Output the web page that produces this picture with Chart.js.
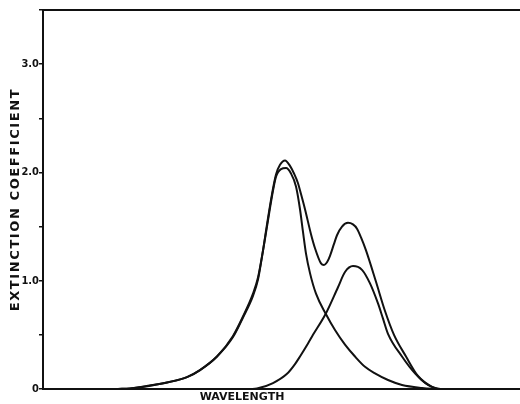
<!DOCTYPE html>
<html>
<head>
<meta charset="utf-8">
<script src="https://cdn.jsdelivr.net/npm/chart.js@4/dist/chart.umd.min.js"></script>
<style>
  html, body { margin: 0; padding: 0; background: #fff; }
  #wrap { width: 520px; height: 404px; }
</style>
</head>
<body>
<div id="wrap"><canvas id="c" width="520" height="404"></canvas></div>
<script>
// Wavelength in arbitrary units (axis 0..477), extinction coefficient values
const compAX = [75,87,110,124,144,157,174,190,200,210,215,219,224,229,233,238,243,248,253,257,260,263,267,273,283,292,302,312,322,332,345,359,379,395];
const compAY = [0,0.005,0.035,0.06,0.11,0.175,0.30,0.48,0.66,0.86,1.01,1.22,1.50,1.78,1.96,2.03,2.04,1.99,1.87,1.66,1.45,1.25,1.07,0.88,0.69,0.545,0.41,0.30,0.205,0.144,0.083,0.037,0.01,0];

const compBX = [207,214,230,244,252,257,265,270,283,295,302,310,319,327,335,340,345,359,372,385,395];
const compBY = [0,0.005,0.055,0.14,0.23,0.30,0.42,0.50,0.70,0.94,1.08,1.135,1.10,0.975,0.79,0.65,0.51,0.30,0.144,0.037,0];

const sumX = [75,87,110,124,144,157,174,190,200,210,215,220,224,229,233,237,242,247,251,255,258,262,268,272,278,281,284,287,291,294,299,305,310,314,318,323,333,342,351,363,375,389,397];
const sumY = [0,0.005,0.037,0.06,0.11,0.175,0.30,0.49,0.67,0.88,1.03,1.28,1.52,1.80,1.98,2.07,2.11,2.06,1.99,1.90,1.80,1.66,1.43,1.30,1.16,1.145,1.17,1.23,1.34,1.42,1.50,1.535,1.52,1.48,1.40,1.28,0.99,0.72,0.50,0.30,0.12,0.02,0];

const yTickLabels = { 0: '0', 1: '1.0', 2: '2.0', 3: '3.0' };
const xLabelText = 'WAVELENGTH';
const xLabelAt = 199;
const yTitle = 'EXTINCTION COEFFICIENT';

const toPts = (xs, ys) => xs.map((x, i) => ({ x: x, y: ys[i] }));

const lineStyle = {
  borderColor: '#111',
  borderWidth: 2,
  pointRadius: 0,
  fill: false,
  tension: 0.4,
  cubicInterpolationMode: 'monotone'
};

new Chart(document.getElementById('c'), {
  type: 'line',
  data: {
    datasets: [
      Object.assign({ label: 'sum', data: toPts(sumX, sumY) }, lineStyle),
      Object.assign({ label: 'A', data: toPts(compAX, compAY) }, lineStyle),
      Object.assign({ label: 'B', data: toPts(compBX, compBY) }, lineStyle)
    ]
  },
  options: {
    responsive: false,
    animation: false,
    devicePixelRatio: 1,
    layout: { padding: 0 },
    plugins: { legend: { display: false }, tooltip: { enabled: false } },
    scales: {
      x: {
        type: 'linear',
        position: 'bottom',
        min: 0,
        max: 477,
        afterFit: s => { s.height = 15; },
        afterBuildTicks: s => { s.ticks = [{ value: xLabelAt }]; },
        ticks: {
          callback: () => xLabelText,
          color: '#111',
          font: { family: 'DejaVu Sans', size: 11, weight: 'bold' },
          padding: 2,
          maxRotation: 0,
          autoSkip: false
        },
        grid: { drawOnChartArea: false, drawTicks: false },
        border: { display: true, color: '#111', width: 2 }
      },
      x2: {
        type: 'linear',
        position: 'top',
        min: 0,
        max: 477,
        afterFit: s => { s.height = 10; },
        ticks: { display: false },
        grid: { drawOnChartArea: false, drawTicks: false },
        border: { display: true, color: '#111', width: 2 }
      },
      y: {
        type: 'linear',
        min: 0,
        max: 3.5,
        afterFit: s => {
          s.width = 43;
          if (!s._spacedTitle) {
            const orig = s.drawTitle.bind(s);
            s.drawTitle = function () {
              const ctx = this.ctx;
              ctx.save();
              ctx.letterSpacing = '1.6px';
              orig();
              ctx.restore();
            };
            s._spacedTitle = true;
          }
        },
        ticks: {
          stepSize: 0.5,
          callback: v => (yTickLabels[v] !== undefined ? yTickLabels[v] : ''),
          color: '#111',
          font: { family: "'Liberation Sans Narrow', 'DejaVu Sans Condensed', 'Liberation Sans'", size: 11, weight: 'bold' },
          padding: 0,
          autoSkip: false
        },
        grid: { drawOnChartArea: false, drawTicks: true, tickLength: 4, color: '#111', lineWidth: 1.5 },
        border: { display: true, color: '#111', width: 2 },
        title: {
          display: true,
          text: yTitle,
          color: '#111',
          font: { family: 'DejaVu Sans', size: 13, weight: '600' },
          padding: { top: 8, bottom: 0 }
        }
      }
    }
  }
});
</script>
</body>
</html>
